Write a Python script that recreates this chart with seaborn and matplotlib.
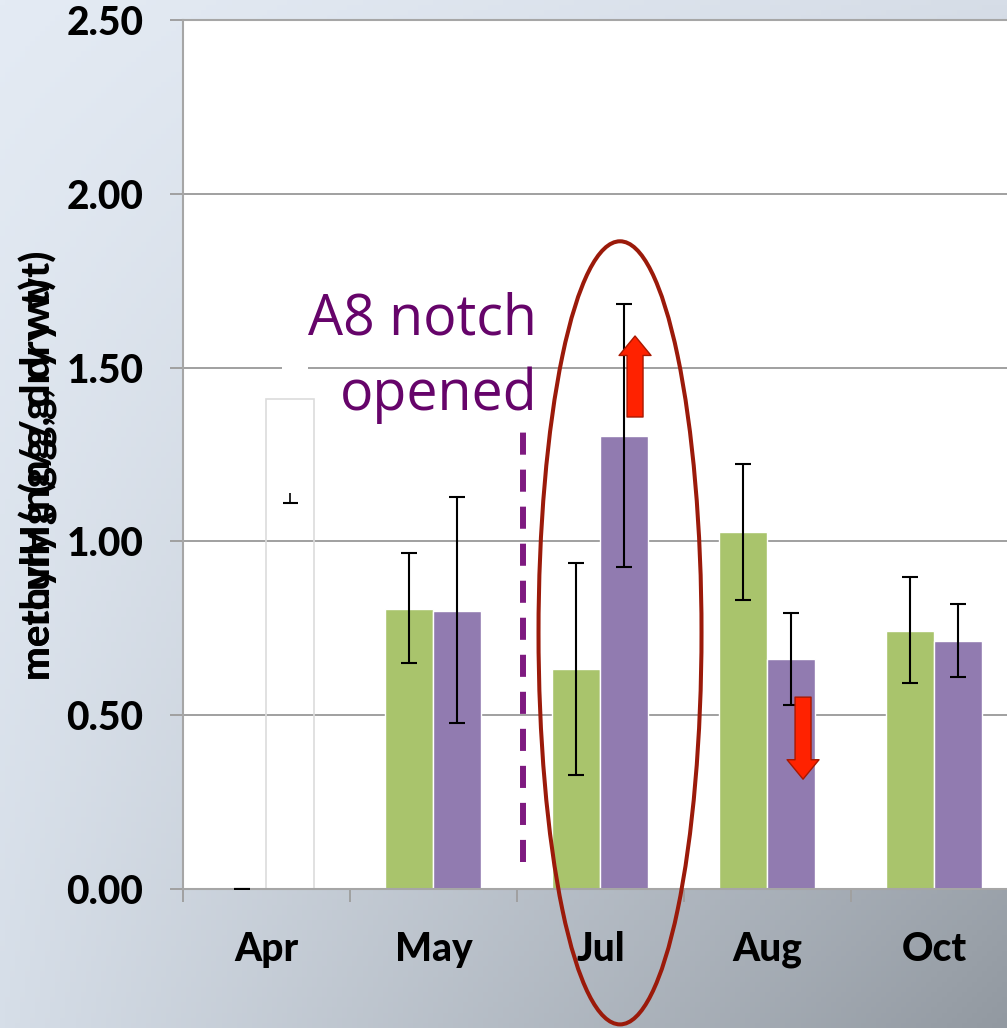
import numpy as np
import pandas as pd
import matplotlib
matplotlib.use("Agg")
import matplotlib.pyplot as plt
import seaborn as sns
from matplotlib.patches import Ellipse, Rectangle, FancyArrowPatch, ArrowStyle

# ---------------- data ----------------
months = ['Apr', 'May', 'Jul', 'Aug', 'Oct']
green_vals = [0.0, 0.806, 0.633, 1.027, 0.742]
green_lo = [0.0, 0.650, 0.328, 0.831, 0.593]
green_hi = [0.0, 0.967, 0.938, 1.223, 0.898]
purple_vals = [1.41, 0.800, 1.303, 0.662, 0.713]
purple_lo = [1.11, 0.478, 0.926, 0.529, 0.610]
purple_hi = [1.72, 1.128, 1.683, 0.794, 0.820]
yticks = [0.0, 0.5, 1.0, 1.5, 2.0, 2.5]
ylabel_a = 'mercury (ng/g, dry wt)'
ylabel_b = 'methylHg (ng/g, dry wt)'
note_lines = ['A8 notch', 'opened']

GREEN = '#A9C46C'
PURPLE = '#917BB0'
TEXT_PURPLE = '#66046A'
DASH_PURPLE = '#7E1A80'
RED_ELL = '#9B1A0A'

sns.set_theme(style='white')
plt.rcParams['font.family'] = ['Lato', 'DejaVu Sans']
plt.rcParams['text.color'] = 'black'
plt.rcParams['xtick.labelcolor'] = 'black'
plt.rcParams['ytick.labelcolor'] = 'black'

fig = plt.figure(figsize=(10.07, 10.28), dpi=100)

# background gradient
bg = fig.add_axes([0, 0, 1, 1], zorder=-10)
tl = np.array([228, 235, 244]) / 255
tr = np.array([214, 221, 231]) / 255
bl = np.array([214, 222, 232]) / 255
br = np.array([146, 153, 161]) / 255
u = np.linspace(0, 1, 200)[None, :, None]
v = np.linspace(0, 1, 200)[:, None, None]
grad = (1 - u) * (1 - v) * tl + u * (1 - v) * tr + (1 - u) * v * bl + u * v * br
bg.imshow(grad, extent=[0, 1, 0, 1], aspect='auto', origin='upper')
bg.axis('off')

ax = fig.add_axes([0.1817, 0.1352, 0.8292, 0.8453])
ax.set_facecolor('white')

df = pd.DataFrame({
    'month': months * 2,
    'site': ['A'] * len(months) + ['B'] * len(months),
    'value': green_vals + purple_vals,
})
sns.barplot(data=df, x='month', y='value', hue='site', palette=[GREEN, PURPLE],
            width=0.575, errorbar=None, saturation=1, legend=False, ax=ax, zorder=2)

# Apr purple bar rendered as an (almost) invisible white column
apr_bar = ax.containers[1][0]
apr_bar.set_facecolor((1, 1, 1, 0))
apr_bar.set_edgecolor('#dcdcdc')
apr_bar.set_linewidth(1.2)

def centers(cont):
    return np.array([p.get_x() + p.get_width() / 2 for p in cont])

gx = centers(ax.containers[0])
px = centers(ax.containers[1])
gv, gl, gh = map(np.array, (green_vals, green_lo, green_hi))
pv, pl, ph = map(np.array, (purple_vals, purple_lo, purple_hi))

ekw = dict(fmt='none', ecolor='black', elinewidth=1.5, capsize=5.5, capthick=1.5, zorder=4)
ax.errorbar(gx, gv, yerr=[gv - gl, gh - gv], **ekw)
ax.errorbar(px[1:], pv[1:], yerr=[pv[1:] - pl[1:], ph[1:] - pv[1:]], **ekw)
# Apr purple: hidden (white) error bar with only lower cap visible
ax.add_patch(Rectangle((px[0] - 0.05, pv[0]), 0.156, ph[0] - pv[0],
                       facecolor='white', edgecolor='none', zorder=1.5))
ax.hlines(pl[0], px[0] - 0.045, px[0] + 0.045, color='black', lw=1.5, zorder=4)
ax.vlines(px[0], pl[0], pl[0] + 0.03, color='black', lw=1.2, zorder=4)

ax.set_xlim(-0.5, len(months) - 0.5)
ax.set_ylim(0, 2.5)
ax.set_xlabel('')
ax.set_ylabel('')

ax.set_yticks(yticks)
ax.set_yticklabels([f'{t:.2f}' for t in yticks], fontsize=28, fontweight='black')
ax.set_xticks(np.arange(-0.5, len(months), 1.0))
ax.set_xticklabels([''] * (len(months) + 1))
ax.set_xticks(np.arange(len(months)), minor=True)
ax.set_xticklabels(months, minor=True, fontsize=28, fontweight='black')
ax.tick_params(axis='y', length=9.5, width=1.4, color='#A0A0A0', pad=19, left=True)
ax.tick_params(axis='x', which='major', length=9.5, width=1.4, color='#A0A0A0', bottom=True)
ax.tick_params(axis='x', which='minor', length=0, pad=30)

ax.yaxis.grid(True, color='#A0A0A0', lw=1.4)
ax.set_axisbelow(True)
for s in ['left', 'bottom', 'top']:
    ax.spines[s].set_visible(True)
    ax.spines[s].set_color('#A6A6A6')
    ax.spines[s].set_linewidth(1.5)
ax.spines['right'].set_visible(False)

# annotation text
ax.text(1.62, 1.594, note_lines[0], ha='right', va='baseline', fontsize=40,
        color=TEXT_PURPLE, family=['Open Sans', 'DejaVu Sans'], zorder=6)
ax.text(1.62, 1.378, note_lines[1], ha='right', va='baseline', fontsize=40,
        color=TEXT_PURPLE, family=['Open Sans', 'DejaVu Sans'], zorder=6)

# dashed vertical line
ax.plot([1.536, 1.536], [0.078, 1.32], color=DASH_PURPLE, lw=4.3,
        dashes=(3.7, 2.5), solid_capstyle='butt', zorder=5)

# ellipse
ax.add_patch(Ellipse((2.117, 0.737), 0.976, 2.253, fill=False, ec=RED_ELL,
                     lw=2.9, clip_on=False, zorder=6))

# arrows
astyle = ArrowStyle.Simple(head_length=1.4, head_width=2.3, tail_width=1.15)
for (x0, y0, y1) in [(2.207, 1.358, 1.591), (3.213, 0.552, 0.316)]:
    ax.add_patch(FancyArrowPatch((x0, y0), (x0, y1), arrowstyle=astyle,
                                 mutation_scale=10, fc='#FF2200', ec='#A81800',
                                 lw=1.0, shrinkA=0, shrinkB=0, zorder=7))

# overlapping y-axis labels (as in the original slide)
for lbl in (ylabel_a, ylabel_b):
    fig.text(0.038, 0.3385, lbl, rotation=90, ha='center', va='bottom',
             fontsize=29, fontweight='black', color='black')

fig.savefig('out.png', dpi=100)
